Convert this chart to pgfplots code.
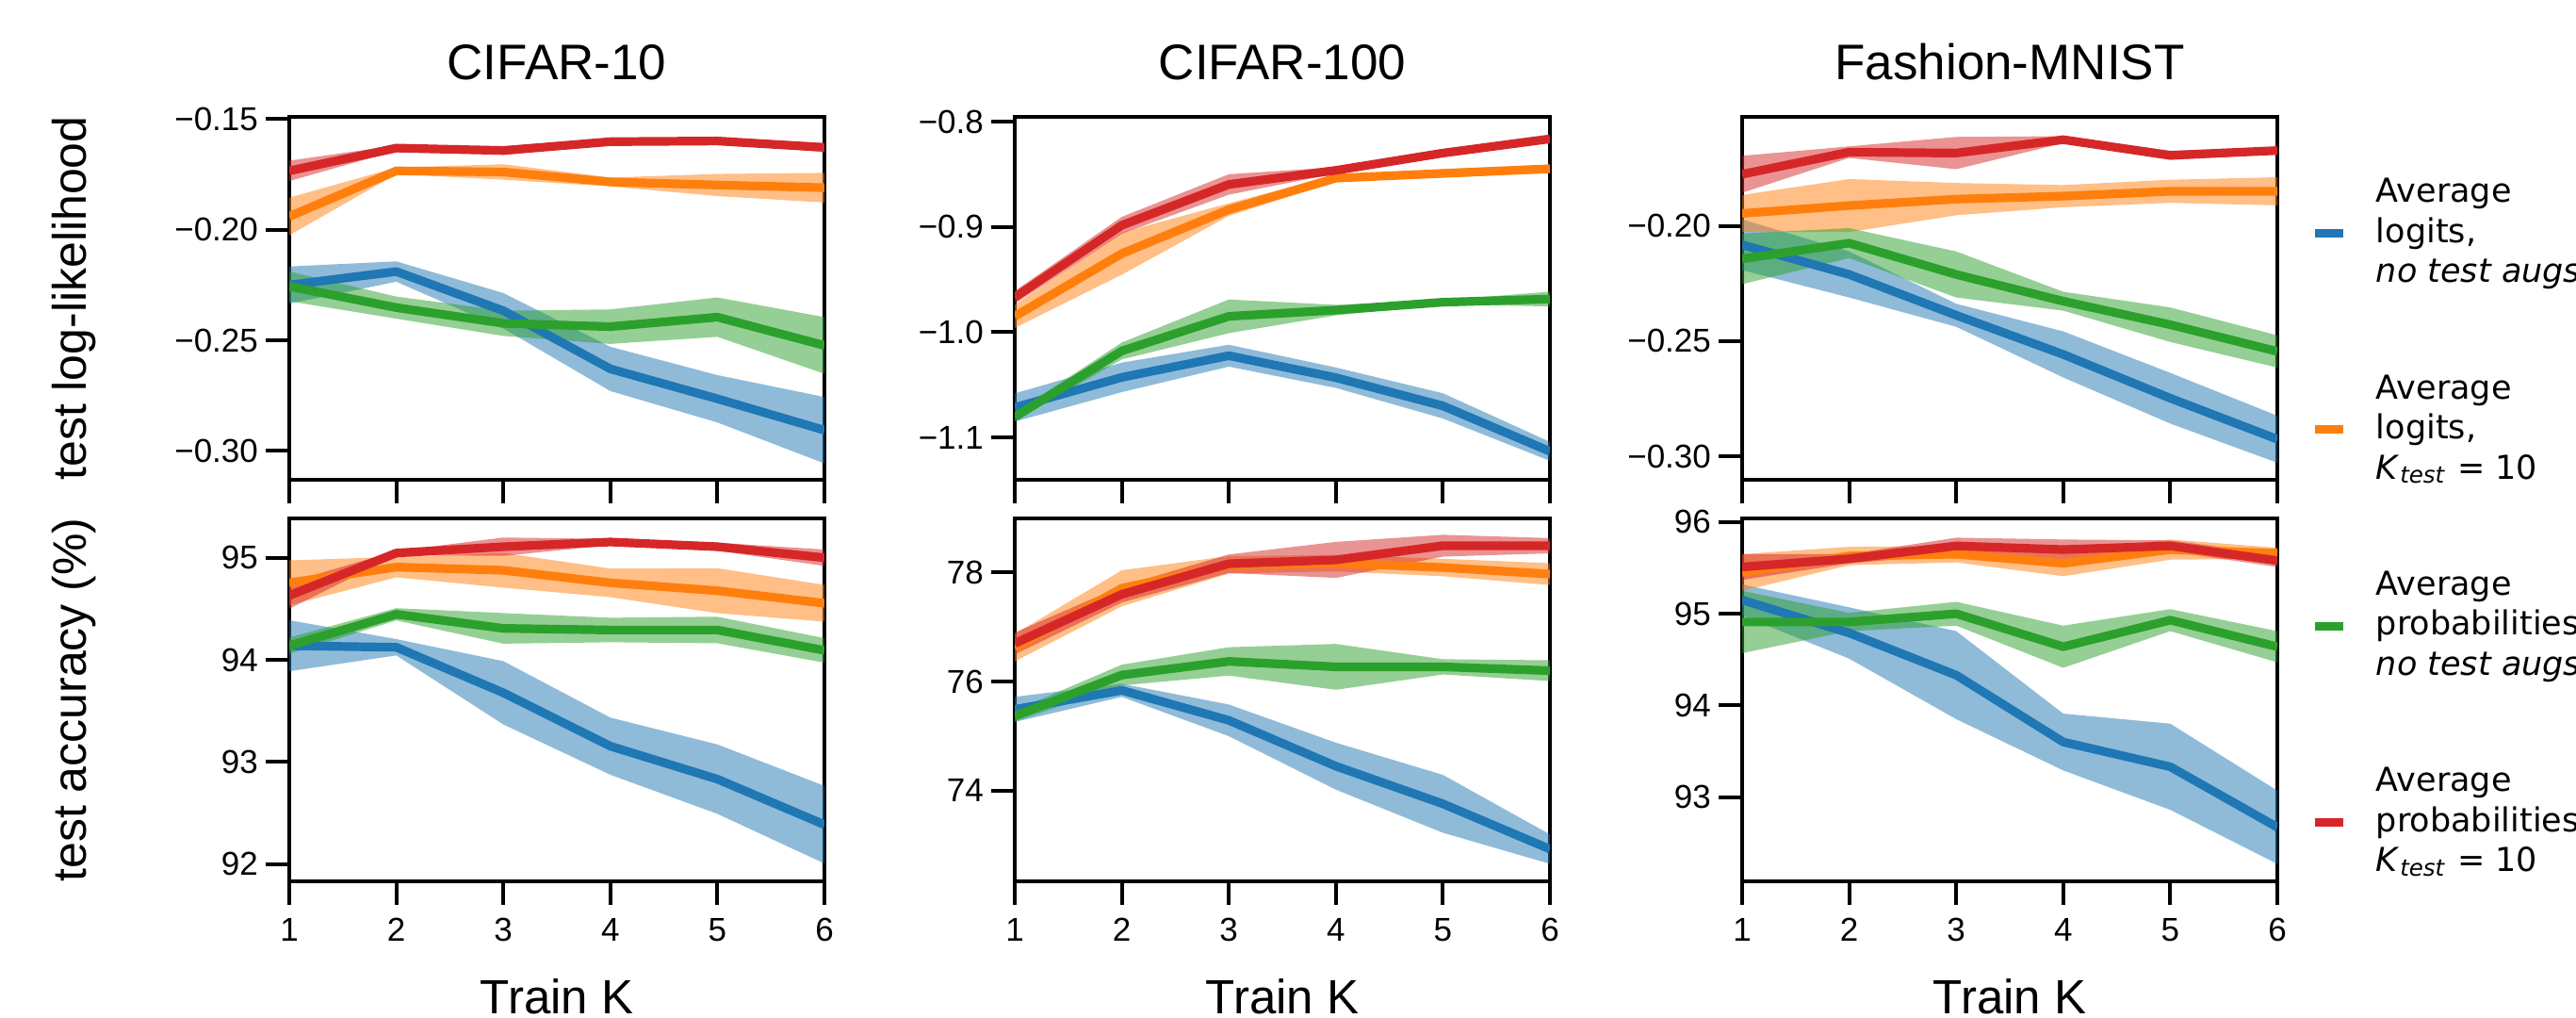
\documentclass[border=0pt]{standalone}
\usepackage{fontspec}
\setmainfont{Liberation Sans}
\newfontfamily\legfont{DejaVu Sans}
\usepackage{pgfplots}
\usepackage{pgfplotstable}
\pgfplotsset{compat=1.18}
\usepgfplotslibrary{fillbetween}

\definecolor{cb}{HTML}{1F77B4}
\definecolor{co}{HTML}{FF7F0E}
\definecolor{cg}{HTML}{2CA02C}
\definecolor{cr}{HTML}{D62728}

% columns: mean and half-width of the band for each method
% b = avg logits no aug, o = avg logits K=10, g = avg probs no aug, r = avg probs K=10
\pgfplotstableread{
k b be o oe g ge r re
1 -0.2250 0.0084 -0.1940 0.0085 -0.2256 0.0067 -0.1734 0.0046
2 -0.2189 0.0046 -0.1734 0.0015 -0.2352 0.0050 -0.1631 0.0012
3 -0.2366 0.0080 -0.1739 0.0035 -0.2423 0.0057 -0.1642 0.0020
4 -0.2629 0.0100 -0.1784 0.0020 -0.2438 0.0078 -0.1602 0.0012
5 -0.2764 0.0107 -0.1798 0.0050 -0.2395 0.0089 -0.1599 0.0015
6 -0.2906 0.0150 -0.1810 0.0067 -0.2523 0.0128 -0.1628 0.0020
}\cifarTenLL
\pgfplotstableread{
k b be o oe g ge r re
1 -1.0716 0.0134 -0.9850 0.0110 -1.0806 0.0040 -0.9670 0.0060
2 -1.0430 0.0140 -0.9254 0.0200 -1.0179 0.0080 -0.8985 0.0080
3 -1.0224 0.0104 -0.8836 0.0060 -0.9850 0.0160 -0.8597 0.0097
4 -1.0433 0.0097 -0.8537 0.0030 -0.9791 0.0050 -0.8463 0.0030
5 -1.0701 0.0120 -0.8492 0.0040 -0.9716 0.0020 -0.8299 0.0020
6 -1.1133 0.0090 -0.8448 0.0040 -0.9686 0.0070 -0.8164 0.0020
}\cifarHundLL
\pgfplotstableread{
k b be o oe g ge r re
1 -0.2082 0.0110 -0.1946 0.0080 -0.2143 0.0110 -0.1776 0.0080
2 -0.2211 0.0100 -0.1912 0.0115 -0.2075 0.0065 -0.1680 0.0025
3 -0.2388 0.0050 -0.1884 0.0070 -0.2211 0.0100 -0.1684 0.0070
4 -0.2558 0.0100 -0.1871 0.0048 -0.2327 0.0041 -0.1626 0.0015
5 -0.2748 0.0110 -0.1850 0.0050 -0.2429 0.0075 -0.1694 0.0020
6 -0.2926 0.0102 -0.1850 0.0061 -0.2545 0.0070 -0.1673 0.0015
}\fashionLL
\pgfplotstableread{
k b be o oe g ge r re
1 94.138 0.25 94.754 0.22 94.138 0.08 94.630 0.13
2 94.123 0.08 94.908 0.10 94.446 0.06 95.046 0.02
3 93.677 0.31 94.877 0.17 94.308 0.15 95.108 0.09
4 93.154 0.28 94.754 0.14 94.292 0.12 95.154 0.03
5 92.831 0.34 94.677 0.22 94.292 0.13 95.108 0.04
6 92.385 0.38 94.554 0.18 94.092 0.12 95.000 0.08
}\cifarTenAcc
\pgfplotstableread{
k b be o oe g ge r re
1 75.49 0.23 76.62 0.25 75.37 0.10 76.70 0.20
2 75.84 0.12 77.71 0.33 76.12 0.19 77.60 0.15
3 75.29 0.29 78.14 0.16 76.37 0.26 78.16 0.17
4 74.45 0.43 78.17 0.15 76.27 0.42 78.23 0.33
5 73.76 0.53 78.09 0.16 76.27 0.14 78.49 0.20
6 72.93 0.27 77.97 0.20 76.20 0.19 78.49 0.14
}\cifarHundAcc
\pgfplotstableread{
k b be o oe g ge r re
1 95.15 0.17 95.45 0.20 94.91 0.34 95.51 0.14
2 94.79 0.28 95.63 0.10 94.91 0.10 95.60 0.05
3 94.33 0.48 95.65 0.09 95.00 0.13 95.74 0.09
4 93.60 0.31 95.55 0.14 94.64 0.23 95.70 0.11
5 93.33 0.47 95.70 0.11 94.93 0.12 95.74 0.06
6 92.67 0.40 95.66 0.06 94.64 0.17 95.58 0.07
}\fashionAcc

\newcommand{\band}[3]{%
  \addplot[draw=none, forget plot, name path=#2u] table[x=k, y expr={\thisrow{#2}+\thisrow{#2e}}] {#1};
  \addplot[draw=none, forget plot, name path=#2l] table[x=k, y expr={\thisrow{#2}-\thisrow{#2e}}] {#1};
  \addplot[fill=#3, fill opacity=0.5, draw=none, forget plot] fill between[of=#2u and #2l];
}
\newcommand{\meanline}[3]{%
  \addplot[#3, line width=2.3pt, line join=round, forget plot] table[x=k, y=#2] {#1};
}
\newcommand{\allseries}[1]{%
  \band{#1}{b}{cb}\band{#1}{o}{co}\band{#1}{g}{cg}\band{#1}{r}{cr}%
  \meanline{#1}{b}{cb}\meanline{#1}{o}{co}\meanline{#1}{g}{cg}\meanline{#1}{r}{cr}%
}

\pgfplotsset{
  panel/.style={
    scale only axis, width=142pt, height=96.25pt,
    xmin=1, xmax=6, xtick={1,2,3,4,5,6},
    tick pos=left, tick align=outside,
    major tick length=6.25pt,
    tick style={line width=1pt, black},
    axis line style={line width=1pt},
    tick label style={font=\fontsize{8.75}{10}\selectfont},
    yticklabel style={xshift=1.5pt},
    /pgf/number format/assume math mode=true,
    title style={at={(0.5,1)}, anchor=base, yshift=3.75pt, font=\fontsize{13.25}{16}\selectfont},
    every axis y label/.style={at={(axis description cs:-0.403,0.5)}, rotate=90, anchor=center, font=\fontsize{12.5}{15}\selectfont},
    every axis x label/.style={at={(axis description cs:0.5,0)}, anchor=center, yshift=-30.5pt, font=\fontsize{12.75}{15}\selectfont},
  },
  toprow/.style={panel, xticklabels={}},
  botrow/.style={panel, xlabel={Train K}},
}

\begin{document}
\begin{tikzpicture}

\begin{axis}[toprow, at={(76.75pt,-31pt)}, anchor=north west,
  title={CIFAR-10}, ylabel={test log-likelihood},
  ymin=-0.313, ymax=-0.149, ytick={-0.30,-0.25,-0.20,-0.15},
  yticklabels={−0.30,−0.25,−0.20,−0.15}]
\allseries{\cifarTenLL}
\end{axis}

\begin{axis}[toprow, at={(269.25pt,-31pt)}, anchor=north west,
  title={CIFAR-100},
  ymin=-1.1403, ymax=-0.7955, ytick={-1.1,-1.0,-0.9,-0.8},
  yticklabels={−1.1,−1.0,−0.9,−0.8}]
\allseries{\cifarHundLL}
\end{axis}

\begin{axis}[toprow, at={(462.25pt,-31pt)}, anchor=north west,
  title={Fashion-MNIST},
  ymin=-0.3102, ymax=-0.1527, ytick={-0.30,-0.25,-0.20},
  yticklabels={−0.30,−0.25,−0.20},
  legend cell align=left,
  legend style={draw=none, fill=none, inner sep=0pt, at={(1.0616,-0.1325)}, anchor=west,
    row sep=23pt, font=\legfont\fontsize{8.75}{10.6}\selectfont,
    nodes={inner sep=0pt, align=left},
    /tikz/every odd column/.style={column sep=7.5pt}},
  legend image code/.code={\draw[line width=2.3pt] (0pt,0pt) -- (7.5pt,0pt);}]
\allseries{\fashionLL}
\addlegendimage{cb}
\addlegendentry{Average\\logits,\\\textit{no test augs}}
\addlegendimage{co}
\addlegendentry{Average\\logits,\\\textit{K}\textsubscript{\textit{test}} = 10}
\addlegendimage{cg}
\addlegendentry{Average\\probabilities,\\\textit{no test augs}}
\addlegendimage{cr}
\addlegendentry{Average\\probabilities,\\\textit{K}\textsubscript{\textit{test}} = 10}
\end{axis}

\begin{axis}[botrow, at={(76.75pt,-137.5pt)}, anchor=north west,
  ylabel={test accuracy (\%)},
  ymin=91.83, ymax=95.385, ytick={92,93,94,95}]
\allseries{\cifarTenAcc}
\end{axis}

\begin{axis}[botrow, at={(269.25pt,-137.5pt)}, anchor=north west,
  ymin=72.34, ymax=78.99, ytick={74,76,78}]
\allseries{\cifarHundAcc}
\end{axis}

\begin{axis}[botrow, at={(462.25pt,-137.5pt)}, anchor=north west,
  ymin=92.08, ymax=96.04, ytick={93,94,95,96}]
\allseries{\fashionAcc}
\end{axis}

\pgfresetboundingbox
\path[use as bounding box] (0pt,0pt) rectangle (683.5pt,-270pt);
\end{tikzpicture}
\end{document}
